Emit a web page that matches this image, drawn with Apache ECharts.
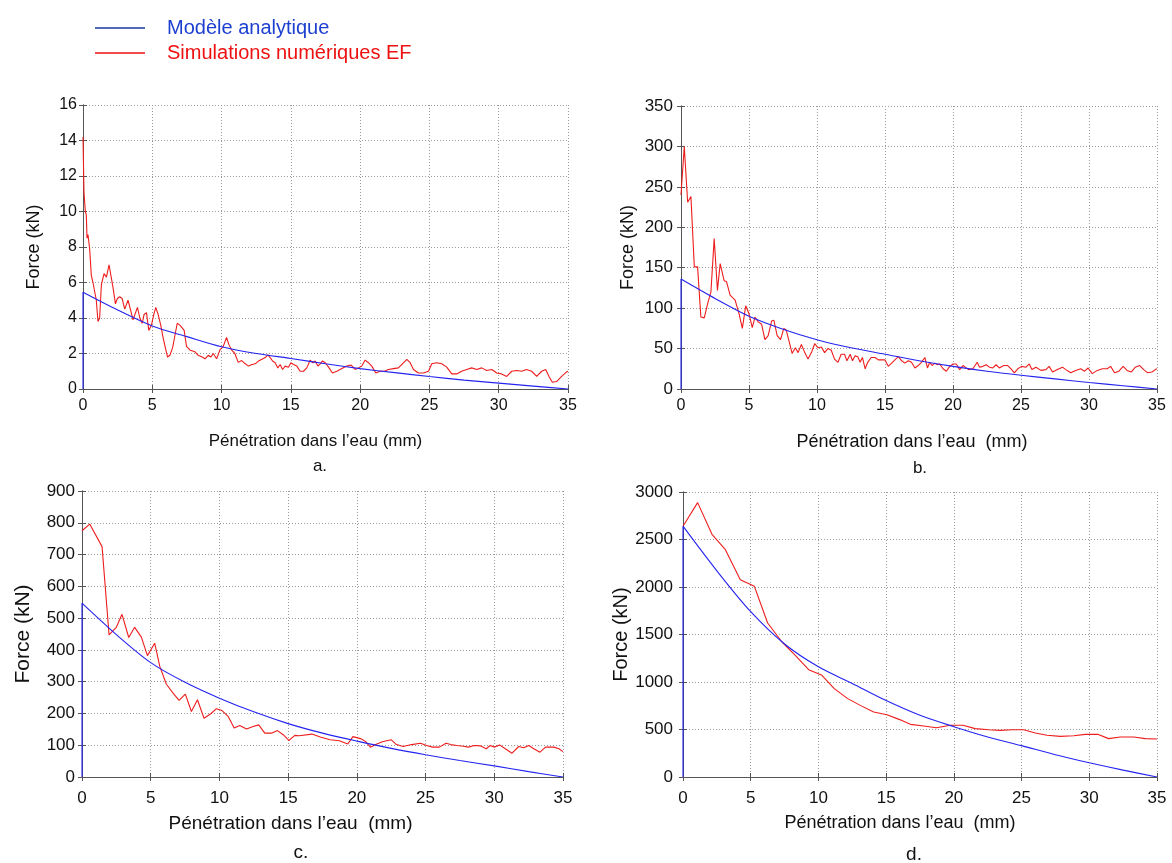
<!DOCTYPE html>
<html>
<head>
<meta charset="utf-8">
<script src="https://cdn.jsdelivr.net/npm/echarts@6/dist/echarts.min.js"></script>
<style>
html,body{margin:0;padding:0;background:#fff;}
#chart{width:1172px;height:863px;}
</style>
</head>
<body>
<div id="chart"></div>
<script>
// ---------- DATA ----------
var seriesNames = ['Modèle analytique', 'Simulations numériques EF'];
var panelLabels = ['a.', 'b.', 'c.', 'd.'];
var xTitles = ['Pénétration dans l’eau (mm)', 'Pénétration dans l’eau  (mm)', 'Pénétration dans l’eau  (mm)', 'Pénétration dans l’eau  (mm)'];
var yTitle = 'Force (kN)';
var xRange = [0, 35, 5];
var yRanges = [[0, 16, 2], [0, 350, 50], [0, 900, 100], [0, 3000, 500]];

var blueA = [[0,0],[0,5.45],[2.5,4.45],[5,3.55],[7.5,2.95],[10,2.38],[12.5,2.0],[15,1.72],[17.5,1.42],[20,1.15],[22.5,0.92],[25,0.7],[27.5,0.5],[30,0.33],[32.5,0.16],[35,0]];
var redA = [[0,14.2],[0.07,11.1],[0.17,10.0],[0.24,9.8],[0.29,8.5],[0.36,8.7],[0.48,7.9],[0.6,6.4],[0.72,6.0],[0.84,6.0],[0.96,5.0],[1.08,3.8],[1.2,4.0],[1.33,5.9],[1.52,6.5],[1.69,6.3],[1.88,7.0],[1.98,6.9],[2.17,5.7],[2.34,4.8],[2.48,5.1],[2.65,5.2],[2.82,5.1],[3.01,4.5],[3.25,5.0],[3.45,4.4],[3.61,3.9],[3.73,3.8],[3.93,4.6],[4.1,4.0],[4.27,3.7],[4.41,4.2],[4.58,4.3],[4.75,3.3],[4.94,3.6],[5.11,4.2],[5.25,4.6],[5.42,4.2],[5.61,3.6],[5.78,2.9],[5.95,2.3],[6.1,1.8],[6.27,1.9],[6.46,2.3],[6.63,3.0],[6.8,3.7],[6.99,3.6],[7.3,3.3],[7.47,2.4],[7.71,2.2],[8.07,2.1],[8.31,1.9],[8.6,1.8],[8.8,1.7],[9.04,1.9],[9.23,1.8],[9.4,2.0],[9.64,1.7],[9.88,2.2],[10.12,2.4],[10.36,2.9],[10.53,2.5],[10.72,2.2],[10.96,2.0],[11.2,1.5],[11.45,1.6],[11.71,1.42],[11.95,1.29],[12.19,1.38],[12.43,1.42],[12.67,1.58],[12.91,1.67],[13.15,1.77],[13.34,1.92],[13.51,1.77],[13.68,1.58],[13.87,1.48],[14.06,1.19],[14.23,1.38],[14.4,1.1],[14.59,1.29],[14.83,1.23],[15.0,1.48],[15.19,1.38],[15.43,1.29],[15.67,1.0],[15.91,1.0],[16.15,1.19],[16.39,1.62],[16.59,1.48],[16.75,1.58],[16.95,1.29],[17.12,1.42],[17.28,1.58],[17.48,1.48],[17.72,1.23],[18.0,0.9],[18.32,1.0],[18.68,1.15],[19.04,1.29],[19.35,1.35],[19.64,1.1],[19.88,1.19],[20.12,1.29],[20.36,1.63],[20.6,1.48],[20.84,1.29],[21.13,0.9],[21.44,1.0],[21.75,1.0],[22.04,1.1],[22.4,1.15],[22.76,1.19],[23.05,1.42],[23.37,1.67],[23.61,1.48],[23.85,1.1],[24.2,0.9],[24.57,0.9],[24.93,1.0],[25.17,1.42],[25.53,1.48],[25.89,1.42],[26.25,1.23],[26.61,0.85],[26.97,0.85],[27.33,1.0],[27.69,1.1],[28.05,1.19],[28.41,1.1],[28.77,1.19],[29.13,1.04],[29.5,1.1],[29.86,0.9],[30.2,0.85],[30.58,0.71],[30.94,1.0],[31.3,1.04],[31.66,1.0],[32.0,1.1],[32.38,1.0],[32.74,0.71],[33.1,1.0],[33.39,1.1],[33.63,0.71],[33.87,0.38],[34.18,0.42],[34.54,0.71],[34.9,0.96],[35,1.0]];

var blueB = [[0,0],[0,136],[2.5,112],[5,90],[7.5,74],[10,61],[12.5,51],[15,43],[17.5,35],[20,28],[22.5,22],[25,17],[27.5,12.5],[30,8],[32.5,4],[35,0]];
var redB = [[0,240],[0.24,300],[0.49,231],[0.73,238],[0.98,151],[1.22,151],[1.46,89],[1.71,88],[1.95,105],[2.2,120],[2.44,186],[2.68,122],[2.88,155],[3.17,134],[3.34,133],[3.61,116],[3.98,110],[4.27,93],[4.51,75],[4.76,103],[5.0,93],[5.24,76],[5.44,89],[5.68,83],[5.93,80],[6.17,61],[6.41,66],[6.66,84],[6.83,85],[7.07,66],[7.32,61],[7.56,75],[7.73,73],[7.93,60],[8.17,44],[8.41,51],[8.61,45],[8.85,55],[9.1,45],[9.34,37],[9.59,45],[9.83,56],[10.07,51],[10.32,52],[10.56,45],[10.8,50],[11.05,48],[11.29,37],[11.54,33],[11.78,43],[12.02,43],[12.2,35],[12.44,43],[12.61,35],[12.8,41],[13.0,40],[13.17,33],[13.34,39],[13.54,25],[13.73,33],[13.98,39],[14.27,39],[14.51,36],[14.76,36],[15.0,36],[15.24,28],[15.49,32],[15.73,36],[15.98,40],[16.22,35],[16.46,32],[16.71,35],[16.95,33],[17.2,26],[17.44,29],[17.68,33],[17.93,39],[18.12,26],[18.29,33],[18.46,29],[18.66,32],[18.85,30],[19.02,31],[19.27,25],[19.51,22],[19.76,28],[20.0,31],[20.24,31],[20.49,24],[20.73,29],[20.9,27],[21.15,24],[21.46,25],[21.78,33],[21.95,27],[22.2,28],[22.44,30],[22.68,27],[22.93,26],[23.17,30],[23.41,26],[23.73,29],[24.02,29],[24.27,25],[24.51,20],[24.76,25],[25.05,28],[25.37,27],[25.61,31],[25.8,24],[26.1,27],[26.46,23],[26.83,24],[27.07,28],[27.32,21],[27.68,24],[28.05,27],[28.29,24],[28.66,20],[29.02,23],[29.39,25],[29.68,22],[29.93,26],[30.24,19],[30.61,23],[30.98,25],[31.34,25],[31.59,28],[31.88,20],[32.2,22],[32.51,28],[32.8,23],[33.1,21],[33.41,27],[33.73,29],[34.02,24],[34.32,20],[34.63,21],[34.88,24],[35,25]];

var blueC = [[0,0],[0,547],[2.5,448],[5,360],[7.5,298],[10,248],[12.5,205],[15,168],[17.5,138],[20,113],[22.5,90],[25,70],[27.5,52],[30,35],[32.5,17],[35,0]];
var redC = [[0,775],[0.56,796],[1.46,725],[1.97,447],[2.21,458],[2.5,471],[2.91,512],[3.4,439],[3.83,471],[4.32,440],[4.76,382],[5.29,421],[5.66,348],[6.14,292],[6.63,264],[7.06,241],[7.52,261],[7.96,206],[8.4,243],[8.88,185],[9.37,199],[9.78,215],[10.19,209],[10.63,191],[11.07,154],[11.48,162],[11.97,151],[12.45,159],[12.86,164],[13.3,138],[13.79,138],[14.22,146],[14.64,133],[15.05,115],[15.49,131],[15.8,130],[16.73,135],[17.39,125],[18.05,117],[18.73,114],[19.34,104],[19.71,127],[20.32,120],[20.63,112],[20.98,94],[21.37,102],[21.85,111],[22.51,117],[22.88,102],[23.37,96],[23.98,102],[24.63,106],[25.07,99],[25.51,94],[26.0,94],[26.49,106],[26.83,102],[27.27,99],[27.76,97],[28.12,94],[28.54,99],[28.98,98],[29.41,89],[29.71,99],[30.0,94],[30.39,101],[30.8,89],[31.29,75],[31.78,96],[32.15,92],[32.51,99],[32.88,89],[33.32,78],[33.73,94],[34.34,94],[34.71,89],[35,80]];

var blueD = [[0,0],[0,2640],[2.5,2170],[5,1740],[7.5,1400],[10,1160],[12.5,985],[15,805],[17.5,650],[20,530],[22.5,422],[25,330],[27.5,235],[30,150],[32.5,72],[35,0]];
var redD = [[0,2639],[1.08,2888],[2.14,2555],[3.13,2393],[4.23,2077],[5.27,2007],[6.25,1621],[7.31,1421],[8.29,1281],[9.28,1130],[10.26,1070],[11.17,930],[12.16,825],[13.09,754],[14.08,684],[15.06,656],[16.0,604],[16.79,554],[17.77,537],[18.71,519],[19.74,544],[20.67,544],[21.58,509],[22.57,498],[23.43,491],[24.29,498],[25.15,498],[26.02,463],[26.88,439],[27.86,428],[28.85,435],[29.71,449],[30.62,449],[31.43,404],[32.29,421],[33.28,421],[34.14,404],[35,400]];

var blueSets = [blueA, blueB, blueC, blueD];
var redSets = [redA, redB, redC, redD];

// ---------- LAYOUT ----------
var grids = [
  {left: 83, top: 105, width: 485, height: 284},
  {left: 681, top: 106, width: 476, height: 283},
  {left: 82, top: 491, width: 481, height: 286},
  {left: 683, top: 492, width: 474, height: 285}
];
var yNameGap = [40, 44, 48, 48];
var yNameSize = [18, 18, 21, 20];
var xNameGap = [44, 44, 37, 37];
var xNameSize = [17, 18, 19, 18];
var xLabelMargin = [9, 9, 13, 13];
var xLabelSize = [16, 16, 17, 17];
var yLabelSize = [16, 17, 17, 17];
var yLabelMargin = [6, 8, 7, 10];
var xNamePad = [[0, 20, 0, 0], [0, 14, 0, 0], [0, 64, 0, 0], [0, 40, 0, 0]];
var captionPos = [[315, 453], [915, 455], [296, 838], [909, 840]];

var FONT = "'Liberation Sans', Arial, sans-serif";
var BLUE = '#2424f0';
var RED = '#ee1d1d';

var xAxes = [], yAxes = [], series = [], titles = [];
grids.forEach(function (g, i) {
  var yr = yRanges[i];
  var narrow = i >= 2;
  xAxes.push({
    type: 'value', gridIndex: i, min: xRange[0], max: xRange[1], interval: xRange[2],
    name: xTitles[i], nameLocation: 'middle', nameGap: xNameGap[i],
    nameTextStyle: {fontFamily: FONT, fontSize: xNameSize[i], color: '#111', padding: xNamePad[i]},
    axisLine: {show: true, lineStyle: {color: '#555', width: 1}},
    axisTick: {show: true, inside: true, length: 4, lineStyle: {color: '#555'}},
    axisLabel: {fontFamily: FONT, fontSize: xLabelSize[i], color: '#111', margin: xLabelMargin[i]},
    splitLine: {show: true, lineStyle: {color: '#9a9a9a', type: [1, 2], width: 1}}
  });
  xAxes.push({
    type: 'value', gridIndex: i, position: 'top', min: xRange[0], max: xRange[1], interval: xRange[2],
    axisLine: {show: true, lineStyle: {color: '#555', width: 1}},
    axisTick: {show: true, inside: true, length: 4, lineStyle: {color: '#555'}},
    axisLabel: {show: false}, splitLine: {show: false}
  });
  yAxes.push({
    type: 'value', gridIndex: i, min: yr[0], max: yr[1], interval: yr[2],
    name: yTitle, nameLocation: 'middle', nameGap: yNameGap[i],
    nameTextStyle: {fontFamily: FONT, fontSize: yNameSize[i], color: '#111'},
    axisLine: {show: true, lineStyle: {color: '#555', width: 1}},
    axisTick: {show: true, inside: true, length: 4, lineStyle: {color: '#555'}},
    axisLabel: {fontFamily: FONT, fontSize: yLabelSize[i], color: '#111', margin: yLabelMargin[i],
      formatter: function (v) { return String(v); }},
    splitLine: {show: true, lineStyle: {color: '#9a9a9a', type: [1, 2], width: 1}}
  });
  yAxes.push({
    type: 'value', gridIndex: i, position: 'right', min: yr[0], max: yr[1], interval: yr[2],
    axisLine: {show: true, lineStyle: {color: '#555', width: 1}},
    axisTick: {show: true, inside: true, length: 4, lineStyle: {color: '#555'}},
    axisLabel: {show: false}, splitLine: {show: false}
  });
  series.push({
    name: seriesNames[0], type: 'line', xAxisIndex: 2 * i, yAxisIndex: 2 * i,
    data: blueSets[i], symbol: 'none', smooth: 0.3, z: 3,
    lineStyle: {color: BLUE, width: 1.1}, itemStyle: {color: BLUE}
  });
  series.push({
    name: seriesNames[1], type: 'line', xAxisIndex: 2 * i, yAxisIndex: 2 * i,
    data: redSets[i], symbol: 'none', z: 2,
    lineStyle: {color: RED, width: 1.1}, itemStyle: {color: RED}
  });
  titles.push({
    text: panelLabels[i], left: captionPos[i][0], top: captionPos[i][1], textAlign: 'center',
    textStyle: {fontFamily: FONT, fontSize: narrow ? 19 : 17, fontWeight: 'normal', color: '#111'}
  });
});

var option = {
  animation: false,
  backgroundColor: '#fff',
  title: titles,
  legend: {
    orient: 'vertical', left: 90, top: 12, itemWidth: 50, itemHeight: 1.3, itemGap: 3,
    icon: 'rect',
    data: [
      {name: seriesNames[0], textStyle: {color: '#1d3fd0'}, itemStyle: {color: '#1b3a9c'}},
      {name: seriesNames[1], textStyle: {color: '#ee1111'}, itemStyle: {color: '#ee1111'}}
    ],
    textStyle: {fontFamily: FONT, fontSize: 20, lineHeight: 22, padding: [0, 0, 0, 17]},
    selectedMode: false
  },
  grid: grids.map(function (g) {
    return {left: g.left, top: g.top, width: g.width, height: g.height, show: false};
  }),
  xAxis: xAxes,
  yAxis: yAxes,
  series: series
};

var chart = echarts.init(document.getElementById('chart'), null, {renderer: 'canvas'});
chart.setOption(option);
</script>
</body>
</html>
